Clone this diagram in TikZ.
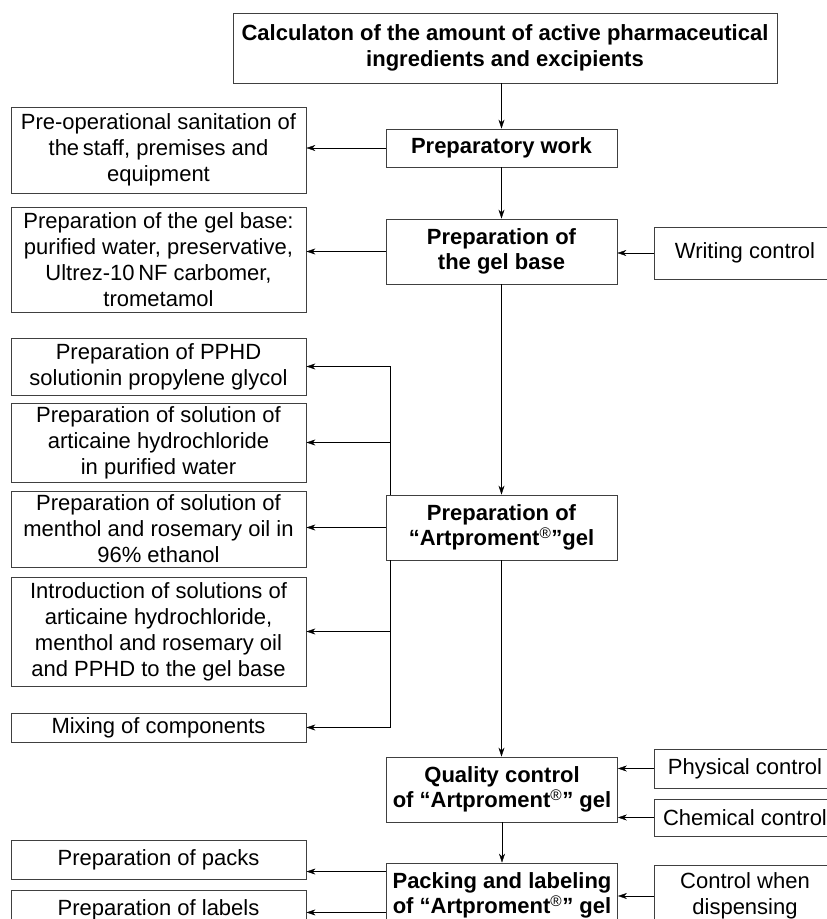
\documentclass[tikz,border=0pt]{standalone}
\usepackage{fontspec}
\setmainfont{Liberation Sans}
\usetikzlibrary{positioning,calc,arrows.meta}

\begin{document}
\begin{tikzpicture}[x=1pt,y=-1pt,
  box/.style={draw=black!75, line width=0.9pt, align=center, inner sep=2pt,
    font=\fontsize{22}{26}\selectfont},
  mainbox/.style={box, font=\fontsize{22}{25.5}\selectfont\bfseries, minimum width=231pt},
  sidebox/.style={box, minimum width=295pt},
  ctrlbox/.style={box, minimum width=182pt},
  >={Stealth[length=9pt,width=6pt]}]
  \clip (0,0) rectangle (827,919);

  % middle column
  \node[mainbox, minimum width=544pt, minimum height=70pt] (calc) at (505,48)
    {Calculaton of the amount of active pharmaceutical\\ ingredients and excipients};
  \node[mainbox, minimum height=38pt] (prep) at (501.5,148) {Preparatory work};
  \node[mainbox, minimum height=65pt] (gelbase) at (501.5,251.5) {Preparation of\\ the gel base};
  \node[mainbox, minimum height=65pt] (artp) at (501.5,527.5)
    {Preparation of\\ “Artproment\textsuperscript{\mdseries ®}”gel};
  \node[mainbox, minimum height=65pt] (quality) at (502,789.5)
    {Quality control\\ of “Artproment\textsuperscript{\mdseries ®}” gel};
  \node[mainbox, minimum height=65pt] (packing) at (502,895.5)
    {Packing and labeling\\ of “Artproment\textsuperscript{\mdseries ®}” gel};

  % left column
  \node[sidebox, minimum height=86pt] (sanit) at (158.5,150)
    {Pre-operational sanitation of\\ the\,staff, premises and\\ equipment};
  \node[sidebox, minimum height=105pt] (gelparts) at (158.5,259.5)
    {Preparation of the gel base:\\ purified water, preservative,\\ Ultrez-10\,NF carbomer,\\ trometamol};
  \node[sidebox, minimum height=57pt] (pphd) at (158.5,366.5)
    {Preparation of PPHD\\ solutionin propylene glycol};
  \node[sidebox, minimum height=79pt] (artic) at (158.5,442.5)
    {Preparation of solution of\\ articaine hydrochloride\\ in purified water};
  \node[sidebox, minimum height=76pt] (menth) at (158.5,529)
    {Preparation of solution of\\ menthol and rosemary oil in\\ 96\% ethanol};
  \node[sidebox, minimum height=109pt] (intro) at (158.5,631.5)
    {Introduction of solutions of\\ articaine hydrochloride,\\ menthol and rosemary oil\\ and PPHD to the gel base};
  \node[sidebox, minimum height=29pt] (mix) at (158.5,727.5) {Mixing of components};
  \node[sidebox, minimum height=39pt] (packs) at (158.5,859.5) {Preparation of packs};
  \node[sidebox, minimum height=40pt] (labels) at (158.5,910) {Preparation of labels};

  % right column
  \node[ctrlbox, minimum height=52pt] (writing) at (745,253) {Writing control};
  \node[ctrlbox, minimum height=39pt] (phys) at (745,768.5) {Physical control};
  \node[ctrlbox, minimum height=37pt] (chem) at (745,817.5) {Chemical control};
  \node[ctrlbox, minimum height=62pt] (dispensing) at (745,896) {Control when\\ dispensing};

  \coordinate (up) at ($(artp.north west)+(5,0)$);
  \coordinate (down) at ($(artp.south west)+(5,0)$);
  \coordinate (packsin) at ($(packing.north west)+(0,9)$);
  \coordinate (labelsin) at ($(packing.south west)+(0,-16)$);

  \draw[->] (calc.south -| prep.north) -- (prep.north);
  \draw[->] (prep.west) -- (prep.west -| sanit.east);
  \draw[->] (prep.south) -- (gelbase.north);
  \draw[->] (gelbase.west) -- (gelbase.west -| gelparts.east);
  \draw[->] (writing.west) -- (writing.west -| gelbase.east);
  \draw[->] (gelbase.south) -- (artp.north);
  \draw[->] (up) |- (pphd.east);
  \draw[->] (up |- artic.east) -- (artic.east);
  \draw[->] (artp.west) -- (artp.west -| menth.east);
  \draw[->] (down) |- (intro.east);
  \draw[->] (down) |- (mix.east);
  \draw[->] (artp.south) -- (artp.south |- quality.north);
  \draw[->] (phys.west) -- (phys.west -| quality.east);
  \draw[->] (chem.west) -- (chem.west -| quality.east);
  \draw[->] (quality.south) -- (quality.south |- packing.north);
  \draw[->] (packsin) -- (packsin -| packs.east);
  \draw[->] (labelsin) -- (labelsin -| labels.east);
  \draw[->] (dispensing.west) -- (dispensing.west -| packing.east);

\end{tikzpicture}
\end{document}
